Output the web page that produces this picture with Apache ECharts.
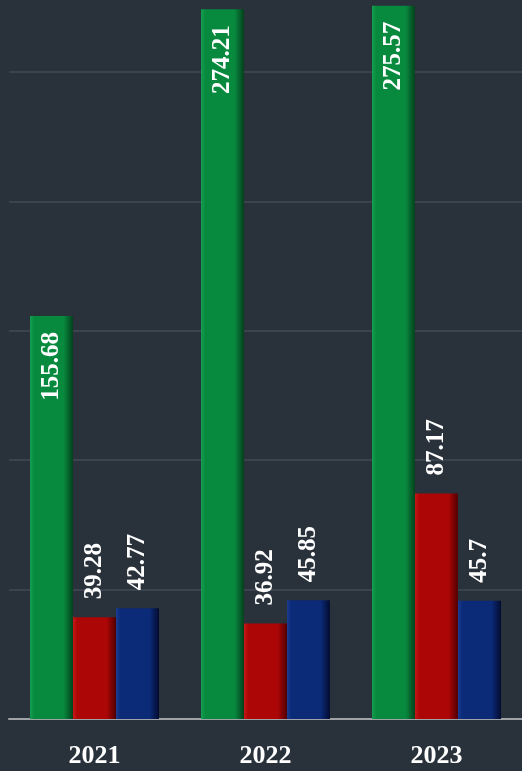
<!DOCTYPE html>
<html>
<head>
<meta charset="utf-8">
<script src="https://cdn.jsdelivr.net/npm/echarts@6/dist/echarts.min.js"></script>
<style>
  html, body { margin: 0; padding: 0; background: #29313b; }
  #chart { width: 522px; height: 771px; }
</style>
</head>
<body>
<div id="chart"></div>
<script>
var years = ["2021", "2022", "2023"];
var greenData = [155.68, 274.21, 275.57];
var redData = [39.28, 36.92, 87.17];
var blueData = [42.77, 45.85, 45.7];

var myChart = echarts.init(document.getElementById("chart"));

// 横向渐变做出立体的边
function bevel(light, base, dark) {
  return new echarts.graphic.LinearGradient(0, 0, 1, 0, [
    { offset: 0, color: light },
    { offset: 0.1, color: base },
    { offset: 0.78, color: base },
    { offset: 1, color: dark },
  ]);
}

var labelFont = {
  color: "#ffffff",
  fontFamily: "Liberation Serif",
  fontWeight: "bold",
  fontSize: 25,
};

function topLabel() {
  return Object.assign({
    show: true,
    position: "top",
    rotate: 90,
    align: "left",
    verticalAlign: "middle",
    distance: 18,
  }, labelFont);
}

var option = {
  backgroundColor: "#29313b",
  animation: false,
  grid: {
    top: 0,
    left: 9,
    right: 0,
    bottom: 52,
  },
  xAxis: {
    type: "category",
    data: years,
    axisLine: {
      show: true,
      lineStyle: { color: "#a0a4a8", width: 2 },
    },
    axisTick: { show: false },
    axisLabel: {
      color: "#ffffff",
      fontFamily: "Liberation Serif",
      fontWeight: "bold",
      fontSize: 26,
      margin: 24,
    },
  },
  yAxis: {
    type: "value",
    min: 0,
    max: 277.8,
    interval: 50,
    axisLine: { show: false },
    axisTick: { show: false },
    axisLabel: { show: false },
    splitLine: {
      show: true,
      showMaxLine: false,
      lineStyle: { color: "#3b434e", width: 2 },
    },
  },
  series: [
    {
      name: "green",
      type: "bar",
      barWidth: 43,
      barGap: "0%",
      data: greenData,
      itemStyle: { color: bevel("#13a050", "#088a3e", "#03401c") },
      label: Object.assign({
        show: true,
        position: "insideTop",
        rotate: 90,
        align: "right",
        verticalAlign: "middle",
        distance: 16,
      }, labelFont),
    },
    {
      name: "red",
      type: "bar",
      barWidth: 43,
      barGap: "0%",
      data: redData,
      itemStyle: { color: bevel("#c81818", "#ad0606", "#500000") },
      label: topLabel(),
    },
    {
      name: "blue",
      type: "bar",
      barWidth: 43,
      barGap: "0%",
      data: blueData,
      itemStyle: { color: bevel("#1a3c92", "#0b2a78", "#030c30") },
      label: topLabel(),
    },
  ],
};
option && myChart.setOption(option);
</script>
</body>
</html>
